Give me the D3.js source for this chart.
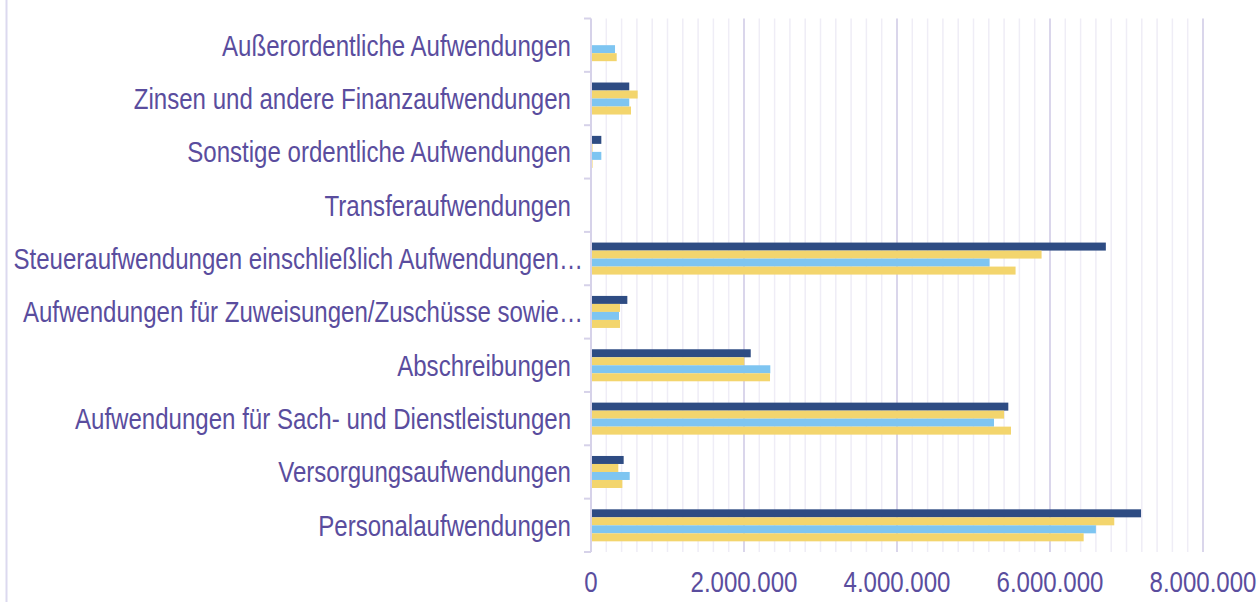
<!DOCTYPE html>
<meta charset="utf-8">
<style>
	body { margin: 0; background: #fff; }
	svg { display: block; }
	text { font-family: "Liberation Sans", Arial, sans-serif; fill: #5a4d9e; }
</style>
<svg width="1260" height="602"></svg>
<script src="https://d3js.org/d3.v7.min.js"></script>
<script>
	// categories, top to bottom
	var categories = [
		"Außerordentliche Aufwendungen",
		"Zinsen und andere Finanzaufwendungen",
		"Sonstige ordentliche Aufwendungen",
		"Transferaufwendungen",
		"Steueraufwendungen einschließlich Aufwendungen…",
		"Aufwendungen für Zuweisungen/Zuschüsse sowie…",
		"Abschreibungen",
		"Aufwendungen für Sach- und Dienstleistungen",
		"Versorgungsaufwendungen",
		"Personalaufwendungen"
	];

	// four series, drawn top to bottom inside each category
	var series = ["s1", "s2", "s3", "s4"];
	var seriesColors = ["#2e4c83", "#f3d56d", "#7ec5f1", "#f3d56d"];

	var s1 = [0, 500000, 135000, 0, 6730000, 475000, 2088000, 5455000, 427000, 7190000];
	var s2 = [0, 610000, 20000, 0, 5890000, 379000, 2004000, 5400000, 357000, 6840000];
	var s3 = [314000, 500000, 135000, 0, 5210000, 366000, 2344000, 5268000, 506000, 6600000];
	var s4 = [336000, 523000, 20000, 0, 5550000, 379000, 2340000, 5490000, 410000, 6440000];

	var xTicks = [0, 2000000, 4000000, 6000000, 8000000];

	var svg = d3.select("svg"),
		width = +svg.attr("width"),
		height = +svg.attr("height");

	var squeeze = 0.83; // the chart font is a narrow one

	var values = [s1, s2, s3, s4];
	var rows = categories.map(function(c, i){
		return { name: c, vals: values.map(function(v, j){ return { key: series[j], value: v[i] }; }) };
	});

	var x = d3.scaleLinear().domain([0, 8000000]).range([591, 1203]);
	var y = d3.scaleBand().domain(categories).range([18.5, 552]).paddingInner(0.4).paddingOuter(0.2);
	var y1 = d3.scaleBand().domain(series).range([0, y.bandwidth()]);
	var color = d3.scaleOrdinal().domain(series).range(seriesColors);

	var de = d3.formatLocale({ decimal: ",", thousands: ".", grouping: [3], currency: ["", " €"] });
	var fmt = de.format(",d");

	// left frame line
	svg.append("line").attr("x1", 6.5).attr("x2", 6.5).attr("y1", 0).attr("y2", height)
		.attr("stroke", "#dcd9ef").attr("stroke-width", 2);

	// minor grid
	var minor = d3.range(200000, 8000001, 200000).filter(function(d){ return d % 2000000 !== 0; });
	svg.append("g").selectAll("line").data(minor).enter().append("line")
		.attr("x1", function(d){ return x(d); }).attr("x2", function(d){ return x(d); })
		.attr("y1", 18.5).attr("y2", 552)
		.attr("stroke", "#efedf6").attr("stroke-width", 1.5);

	// major grid
	svg.append("g").selectAll("line").data(xTicks.slice(1)).enter().append("line")
		.attr("x1", function(d){ return x(d); }).attr("x2", function(d){ return x(d); })
		.attr("y1", 18.5).attr("y2", 552)
		.attr("stroke", "#dad6eb").attr("stroke-width", 2);

	// bars
	svg.append("g").selectAll("g").data(rows).enter().append("g")
		.attr("transform", function(d){ return "translate(0," + y(d.name) + ")"; })
		.selectAll("rect").data(function(d){ return d.vals; }).enter().append("rect")
		.attr("x", x(0))
		.attr("y", function(d){ return y1(d.key); })
		.attr("width", function(d){ return x(d.value) - x(0); })
		.attr("height", y1.bandwidth())
		.attr("fill", function(d){ return color(d.key); });

	// category axis
	var yAxis = svg.append("g");
	yAxis.append("line").attr("x1", 591).attr("x2", 591).attr("y1", 18.5).attr("y2", 552)
		.attr("stroke", "#d6d2e9").attr("stroke-width", 2);
	var bounds = categories.map(function(c){ return y(c) - y.step() * 0.2; }).concat([552]);
	yAxis.selectAll("line.tick").data(bounds).enter().append("line").attr("class", "tick")
		.attr("x1", 584).attr("x2", 591)
		.attr("y1", function(d){ return d; }).attr("y2", function(d){ return d; })
		.attr("stroke", "#d6d2e9").attr("stroke-width", 2);
	// truncated labels let the ellipsis run into the gap before the axis
	yAxis.selectAll("text").data(categories).enter().append("text")
		.attr("transform", function(d){
			var tx = /…$/.test(d) ? 583 : 571;
			return "translate(" + tx + "," + (y(d) + y.bandwidth() / 2) + ") scale(" + squeeze + ",1)";
		})
		.attr("dy", "0.36em")
		.attr("text-anchor", "end")
		.style("font-size", "29px")
		.text(function(d){ return d; });

	// value axis labels
	svg.append("g").selectAll("text").data(xTicks).enter().append("text")
		.attr("transform", function(d){ return "translate(" + x(d) + ",592) scale(" + squeeze + ",1)"; })
		.attr("text-anchor", "middle")
		.style("font-size", "29px")
		.text(function(d){ return fmt(d); });
</script>
